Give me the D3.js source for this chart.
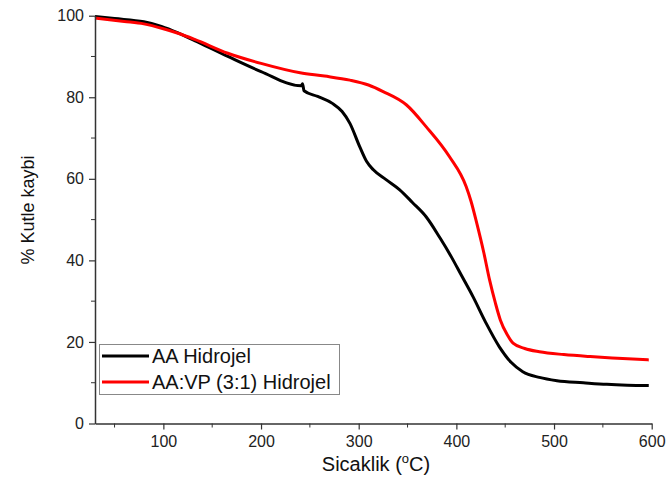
<!DOCTYPE html>
<html><head><meta charset="utf-8">
<script src="https://cdn.jsdelivr.net/npm/d3@7"></script>
<style>body{margin:0;background:#fff}svg{display:block}text{font-family:"Liberation Sans",Arial,sans-serif}</style>
</head><body><svg id="c" width="668" height="479"></svg>
<script>
const aaTemps = [30, 50, 80, 98, 115, 132, 166, 200, 241, 242.5, 244, 258, 273, 283, 291, 301, 308, 315, 328, 342, 355, 369, 383, 395, 405, 417, 430, 444, 456, 468, 485, 503, 530, 554, 575, 597];
const aaValues = [99.8, 99.3, 98.5, 97.4, 95.8, 93.9, 90.0, 86.3, 82.8, 83.3, 81.6, 80.2, 78.5, 76.5, 73.6, 67.9, 64.3, 62.2, 59.8, 57.3, 54.2, 50.7, 45.6, 40.8, 36.4, 31.1, 24.8, 18.8, 15.0, 12.7, 11.3, 10.5, 10.0, 9.6, 9.4, 9.3];
const vpTemps = [30, 60, 80, 100, 115, 132, 166, 200, 240, 265, 291, 310, 325, 349, 369, 393, 410, 415, 421, 428, 434, 440, 445, 452, 458, 470, 485, 510, 537, 565, 597];
const vpValues = [99.4, 98.6, 98.0, 96.8, 95.7, 94.2, 90.8, 88.3, 86.0, 85.2, 84.2, 83.0, 81.4, 78.1, 72.8, 65.4, 58.1, 54.5, 49.0, 42.0, 35.2, 29.5, 25.4, 21.8, 19.7, 18.4, 17.6, 16.9, 16.4, 16.0, 15.6];
const seriesNames = ["AA Hidrojel", "AA:VP (3:1) Hidrojel"];
const seriesColors = ["#000000", "#ff0000"];
const xTicks = [100, 200, 300, 400, 500, 600];
const xMinorTicks = [50, 150, 250, 350, 450, 550];
const yTicks = [0, 20, 40, 60, 80, 100];
const yMinorTicks = [10, 30, 50, 70, 90];

const svg = d3.select("#c");
const x = d3.scaleLinear().domain([30, 600]).range([95, 651.7]);
const y = d3.scaleLinear().domain([0, 100]).range([423.5, 15.7]);
const axisColor = "#333";

// curves
const line = d3.line().x(d => x(d[0])).y(d => y(d[1])).curve(d3.curveMonotoneX);
const series = [d3.zip(aaTemps, aaValues), d3.zip(vpTemps, vpValues)];
// draw red first? black is mostly below; draw black then red
[0, 1].forEach(i => {
  svg.append("path").datum(series[i]).attr("d", line)
    .attr("fill", "none").attr("stroke", seriesColors[i]).attr("stroke-width", 3)
    .attr("stroke-linejoin", "round");
});

// x axis
const gx = svg.append("g").attr("transform", `translate(0,${y(0)})`)
  .call(d3.axisBottom(x).tickValues(xTicks).tickSize(6).tickSizeOuter(0).tickPadding(6));
gx.append("g").selectAll("line").data(xMinorTicks).join("line")
  .attr("x1", d => x(d)).attr("x2", d => x(d)).attr("y1", 0).attr("y2", 4)
  .attr("stroke", axisColor);
// y axis
const gy = svg.append("g").attr("transform", `translate(${x(30)},0)`)
  .call(d3.axisLeft(y).tickValues(yTicks).tickSize(6).tickSizeOuter(0).tickPadding(5));
gy.append("g").selectAll("line").data(yMinorTicks).join("line")
  .attr("x1", 0).attr("x2", -4).attr("y1", d => y(d)).attr("y2", d => y(d))
  .attr("stroke", axisColor);
[gx, gy].forEach(g => {
  g.select(".domain").attr("stroke", axisColor).attr("stroke-width", 1.5);
  g.selectAll(".tick line").attr("stroke", axisColor).attr("stroke-width", 1.2);
  g.selectAll(".tick text").attr("font-size", 16).attr("fill", "#222")
    .attr("font-family", "Liberation Sans, Arial, sans-serif");
});

// axis titles
const xt = svg.append("text").attr("x", 376).attr("y", 471).attr("text-anchor", "middle")
  .attr("font-size", 20).attr("fill", "#111");
xt.append("tspan").text("Sicaklik (");
xt.append("tspan").attr("font-size", 13).attr("dy", -8).text("o");
xt.append("tspan").attr("dy", 8).text("C)");

svg.append("text").attr("transform", "translate(34,210) rotate(-90)")
  .attr("text-anchor", "middle").attr("font-size", 18).attr("fill", "#111")
  .text("% Kutle kaybi");

// legend
const lg = svg.append("g");
lg.append("rect").attr("x", 99.5).attr("y", 344.5).attr("width", 240).attr("height", 50)
  .attr("fill", "#fff").attr("stroke", "#888").attr("stroke-width", 1);
seriesNames.forEach((n, i) => {
  const cy = 356 + i * 26;
  lg.append("line").attr("x1", 102).attr("x2", 149).attr("y1", cy).attr("y2", cy)
    .attr("stroke", seriesColors[i]).attr("stroke-width", 3);
  lg.append("text").attr("x", 152).attr("y", cy + 7).attr("font-size", 20).attr("fill", "#111").text(n);
});
</script></body></html>
